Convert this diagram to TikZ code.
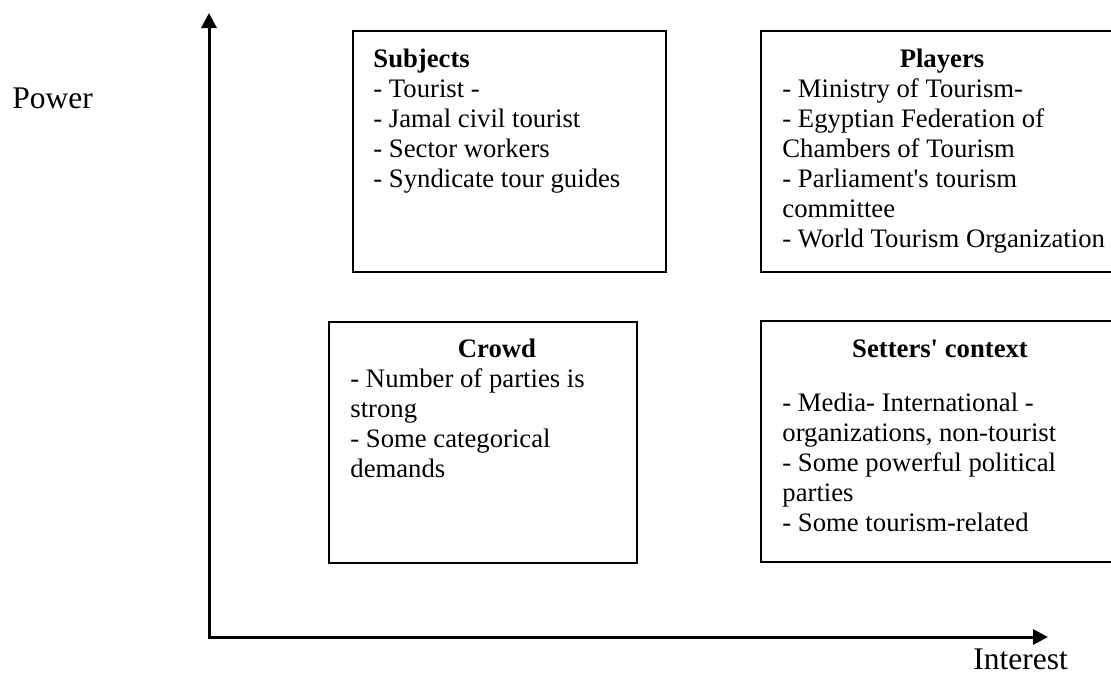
\documentclass[tikz,border=0pt]{standalone}
\usepackage{fontspec}
\setmainfont{Liberation Serif}
\usetikzlibrary{arrows.meta}
\begin{document}
\begin{tikzpicture}[x=0.5pt,y=-0.5pt,
  box/.style={draw, line width=1pt, inner sep=0, anchor=north west, minimum height=120.5pt},
  boxtext/.style={anchor=base west, inner sep=0, font=\fontsize{13.35}{15}\selectfont},
  head/.style={anchor=base, inner sep=0, font=\fontsize{13.35}{15}\selectfont\bfseries},
  axislabel/.style={anchor=base west, inner sep=0, font=\fontsize{15.75}{18}\selectfont},
  axisline/.style={line width=1.5pt, {Triangle[length=7.5pt,width=7.5pt]}-{Triangle[length=7.5pt,width=7.5pt]}}]
\useasboundingbox (0,0) rectangle (1111,675);
% boxes
\node[box, minimum width=156.5pt] (subjects) at (352,30) {};
\node[box, minimum width=180pt] (players) at (760,30) {};
\node[box, minimum width=154pt] (crowd) at (328,321) {};
\node[box, minimum width=180pt] (setters) at (760,320) {};
% axes
\coordinate (ytip) at (209,13);
\coordinate (origin) at (209,637);
\coordinate (xtip) at (1048,637);
\draw[axisline] (ytip) -- (origin) -- (xtip);
\node[axislabel] (power) at (12,108) {Power};
\node[axislabel] (interest) at (973,669) {Interest};
% Subjects
\node[boxtext, font=\fontsize{13.35}{15}\selectfont\bfseries] (subjhead) at (373,67) {Subjects};
\node[boxtext] (subjlist) at (373,97) {\parbox[t]{200pt}{\raggedright
- Tourist -\\
- Jamal civil tourist\\
- Sector workers\\
- Syndicate tour guides}};
% Players
\node[head] (playhead) at (942,67) {Players};
\node[boxtext] (playlist) at (782,97) {\parbox[t]{200pt}{\raggedright
- Ministry of Tourism-\\
- Egyptian Federation of\\
Chambers of Tourism\\
- Parliament\textquotesingle s tourism\\
committee\\
- World Tourism Organization}};
% Crowd
\node[head] (crowdhead) at (497,357) {Crowd};
\node[boxtext] (crowdlist) at (350,387) {\parbox[t]{200pt}{\raggedright
- Number of parties is\\
strong\\
- Some categorical\\
demands}};
% Setters' context
\node[head] (sethead) at (940,357) {Setters\textquotesingle\ context};
\node[boxtext] (setlist) at (782,411) {\parbox[t]{200pt}{\raggedright
- Media- International -\\
organizations, non-tourist\\
- Some powerful political\\
parties\\
- Some tourism-related}};
\end{tikzpicture}
\end{document}
